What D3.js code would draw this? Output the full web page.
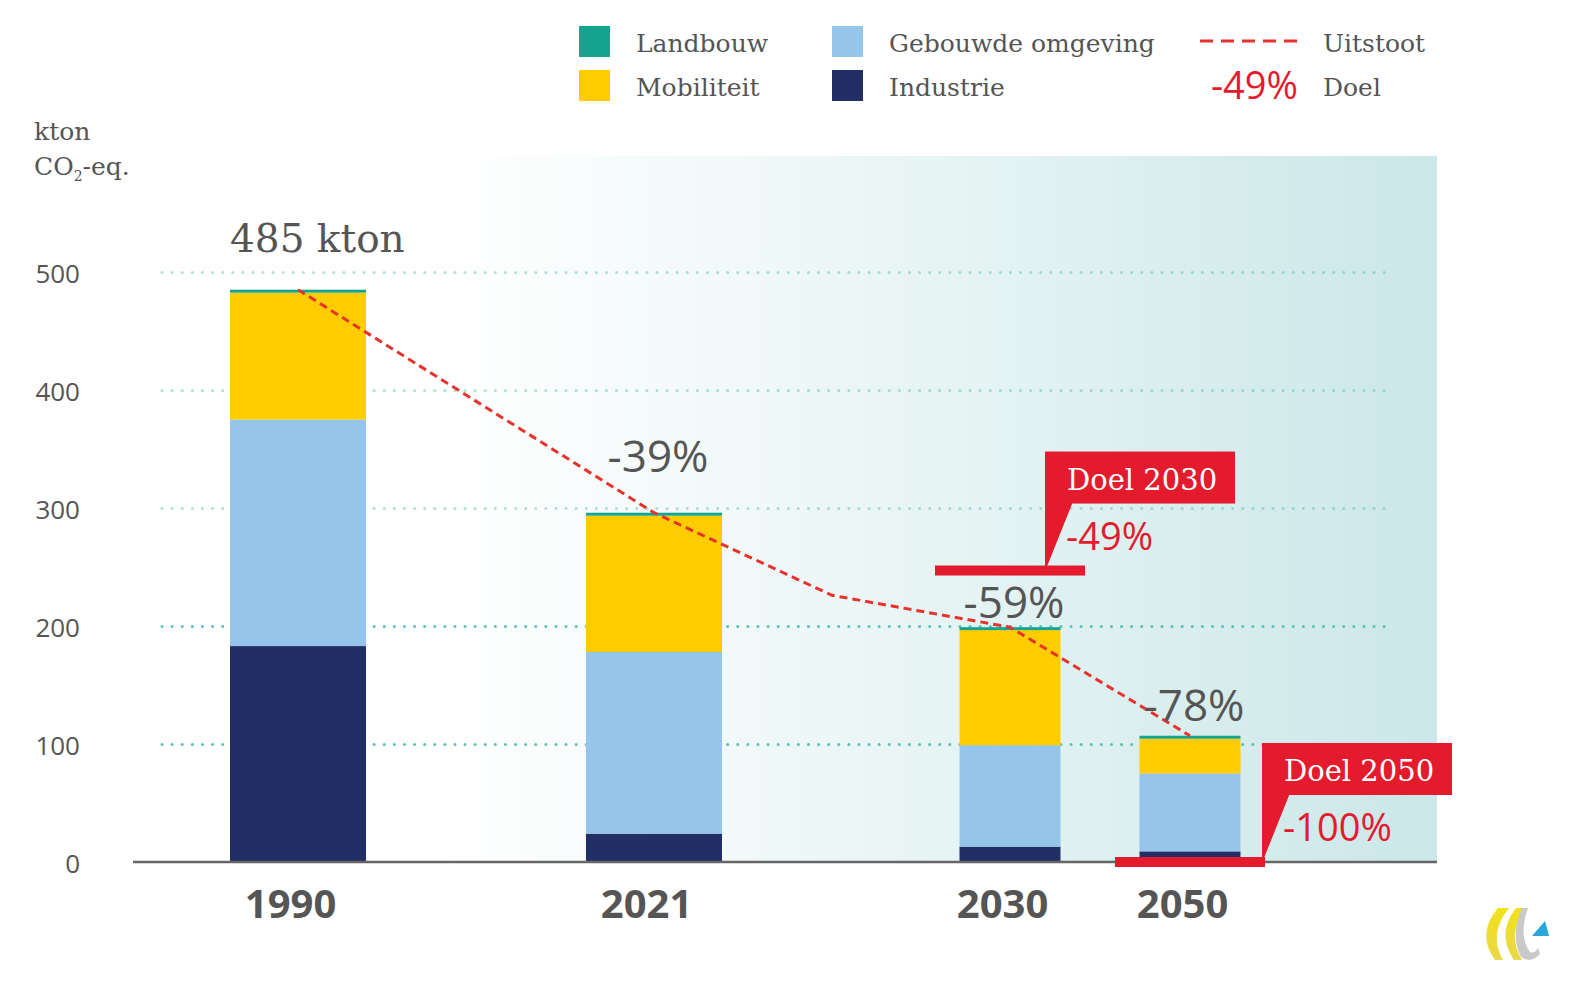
<!DOCTYPE html>
<html>
<head>
<meta charset="utf-8">
<script src="https://cdn.jsdelivr.net/npm/d3@7"></script>
<style>
  body { margin: 0; background: #fff; }
  svg { display: block; }
</style>
</head>
<body>
<script>
// values (kton CO2-eq.)
const years = [1990, 2021, 2030, 2050];
const industrie = [183, 24, 13, 9];
const gebouwd = [192, 154, 86, 66];
const mobiliteit = [107.5, 115.5, 97.5, 29.5];
const landbouw = [2.5, 2.5, 2.5, 2.5];

const sectors = ["Industrie", "Gebouwde omgeving", "Mobiliteit", "Landbouw"];
const sectorColors = ["#222f66", "#95c5ea", "#ffcc00", "#14a48f"];

const uitstootYears = [1990, 2021, 2025.5, 2030, 2050];
const uitstootValues = [485, 296, 226, 199, 107];

const doelYears = [2030, 2050];
const doelValues = [247, 0];
const doelLabels = ["-49%", "-100%"];

const yTicks = [0, 100, 200, 300, 400, 500];

const W = 1584, H = 984;
const red = "#e31b2d", grey = "#555";
const serif = "'DejaVu Serif', serif";
const sans = "'Open Sans', sans-serif";

const svg = d3.select("body").append("svg")
    .attr("width", W).attr("height", H);

const y = d3.scaleLinear().domain([0, 500]).range([862, 272]);
// bars are not spaced evenly in time, so map years piecewise
const x = d3.scaleLinear().domain(years).range([298, 654, 1010, 1190]);
const barW = d => d < 2030 ? 136 : 101;

const defs = svg.append("defs");
const grad = defs.append("linearGradient").attr("id", "bg");
grad.append("stop").attr("offset", "0").attr("stop-color", "#ffffff");
grad.append("stop").attr("offset", "0.24").attr("stop-color", "#ffffff");
grad.append("stop").attr("offset", "0.62").attr("stop-color", "#e7f4f4");
grad.append("stop").attr("offset", "1").attr("stop-color", "#cbe7e8");

svg.append("rect")
    .attr("x", 134).attr("y", 156)
    .attr("width", 1437 - 134).attr("height", y(0) - 156)
    .attr("fill", "url(#bg)");

// gridlines
const grid = svg.append("g")
    .attr("transform", "translate(162,0)")
    .call(d3.axisLeft(y).tickValues(yTicks.filter(d => d > 0)).tickSize(-1232).tickFormat(""));
grid.select(".domain").remove();
grid.selectAll(".tick line")
    .attr("stroke", "#4dbcb0")
    .attr("stroke-width", 3)
    .attr("stroke-linecap", "round")
    .attr("stroke-dasharray", "0.1,10")
    .attr("opacity", d => d <= 200 ? 0.9 : 0.45);

// y axis labels
const yAxis = svg.append("g")
    .attr("transform", "translate(80,0)")
    .call(d3.axisLeft(y).tickValues(yTicks).tickSize(0).tickPadding(0));
yAxis.select(".domain").remove();
yAxis.selectAll("text")
    .attr("font-family", sans).attr("font-size", 26)
    .attr("fill", grey).attr("dy", "0.4em");

// stacked bars
const table = years.map((yr, i) => ({
    year: yr, Industrie: industrie[i], "Gebouwde omgeving": gebouwd[i],
    Mobiliteit: mobiliteit[i], Landbouw: landbouw[i]
}));
const stacked = d3.stack().keys(sectors)(table);

svg.append("g").selectAll("g")
    .data(stacked)
    .join("g")
    .attr("fill", (d, i) => sectorColors[i])
    .selectAll("rect")
    .data(d => d)
    .join("rect")
    .attr("x", d => x(d.data.year) - barW(d.data.year) / 2)
    .attr("width", d => barW(d.data.year))
    .attr("y", d => y(d[1]))
    .attr("height", d => y(d[0]) - y(d[1]));

// baseline
svg.append("line")
    .attr("x1", 133).attr("x2", 1437)
    .attr("y1", y(0)).attr("y2", y(0))
    .attr("stroke", "#666").attr("stroke-width", 2.5);

// x axis labels
const xAxis = svg.append("g")
    .attr("transform", "translate(-8," + y(0) + ")")
    .call(d3.axisBottom(x).tickValues(years).tickFormat(d3.format("d")).tickSize(0).tickPadding(0));
xAxis.select(".domain").remove();
xAxis.selectAll("text")
    .attr("font-family", sans).attr("font-weight", 700).attr("font-size", 40)
    .attr("fill", grey).attr("dy", null).attr("y", 56);

// emissions line
const pts = uitstootYears.map((yr, i) => [x(yr), y(uitstootValues[i])]);
svg.append("path")
    .attr("d", d3.line()(pts))
    .attr("fill", "none")
    .attr("stroke", "#e6332e").attr("stroke-width", 3)
    .attr("stroke-dasharray", "8,5");

// totals and reductions
const totals = table.map(d => d.Industrie + d["Gebouwde omgeving"] + d.Mobiliteit + d.Landbouw);
const pctOffset = {2021: 41, 2030: 9, 2050: 15};

svg.append("text")
    .attr("x", x(1990) - barW(1990) / 2).attr("y", y(totals[0]) - 38)
    .attr("font-family", serif).attr("font-size", 39).attr("fill", grey)
    .text(Math.round(totals[0]) + " kton");

svg.append("g").selectAll("text")
    .data(table.slice(1))
    .join("text")
    .attr("x", d => x(d.year) + 4)
    .attr("y", (d, i) => y(totals[i + 1]) - pctOffset[d.year])
    .attr("text-anchor", "middle")
    .attr("font-family", sans).attr("font-size", 44).attr("fill", grey)
    .text((d, i) => Math.round((totals[i + 1] / totals[0] - 1) * 100) + "%");

// target callouts
const boxLeft = {2030: 35, 2050: 72};
doelYears.forEach((yr, i) => {
    const g = svg.append("g");
    const ty = y(doelValues[i]);
    const bx = x(yr) + boxLeft[yr];
    const by = ty - 119;
    g.append("rect")
        .attr("x", bx).attr("y", by).attr("width", 190).attr("height", 52)
        .attr("fill", red);
    g.append("path")
        .attr("d", `M${bx},${by + 50} L${bx + 28},${by + 50} L${bx + 2},${ty - 4} L${bx},${ty - 4}Z`)
        .attr("fill", red);
    g.append("rect")
        .attr("x", x(yr) - 75).attr("y", ty - 5).attr("width", 150).attr("height", 10)
        .attr("fill", red);
    g.append("text")
        .attr("x", bx + 22).attr("y", by + 38)
        .attr("font-family", serif).attr("font-size", 29).attr("fill", "#fff")
        .text("Doel " + yr);
    g.append("text")
        .attr("x", bx + 21).attr("y", ty - 21)
        .attr("font-family", sans).attr("font-size", 38).attr("fill", red)
        .text(doelLabels[i]);
});

// unit label
const unit = svg.append("text")
    .attr("font-family", serif).attr("font-size", 25).attr("fill", grey);
unit.append("tspan").attr("x", 34).attr("y", 140).text("kton");
unit.append("tspan").attr("x", 34).attr("y", 175).text("CO");
unit.append("tspan").attr("font-size", 14).attr("dy", 6).text("2");
unit.append("tspan").attr("dy", -6).text("-eq.");

// legend
const legendItems = [
    {label: "Landbouw", color: sectorColors[3], col: 0, row: 0},
    {label: "Mobiliteit", color: sectorColors[2], col: 0, row: 1},
    {label: "Gebouwde omgeving", color: sectorColors[1], col: 1, row: 0},
    {label: "Industrie", color: sectorColors[0], col: 1, row: 1}
];
const colX = [579, 832];
const rowY = [26, 70];
const legend = svg.append("g");
legend.selectAll("rect")
    .data(legendItems)
    .join("rect")
    .attr("x", d => colX[d.col]).attr("y", d => rowY[d.row])
    .attr("width", 31).attr("height", 31)
    .attr("fill", d => d.color);
legend.selectAll("text.lbl")
    .data(legendItems)
    .join("text")
    .attr("class", "lbl")
    .attr("x", d => colX[d.col] + 57).attr("y", d => rowY[d.row] + 26)
    .attr("font-family", serif).attr("font-size", 25).attr("fill", grey)
    .text(d => d.label);

legend.append("line")
    .attr("x1", 1200).attr("x2", 1303).attr("y1", 41).attr("y2", 41)
    .attr("stroke", "#e6332e").attr("stroke-width", 3)
    .attr("stroke-dasharray", "13,8");
legend.append("text")
    .attr("x", 1323).attr("y", 52)
    .attr("font-family", serif).attr("font-size", 25).attr("fill", grey)
    .text("Uitstoot");
legend.append("text")
    .attr("x", 1298).attr("y", 99).attr("text-anchor", "end")
    .attr("font-family", sans).attr("font-size", 38).attr("fill", red)
    .text("-49%");
legend.append("text")
    .attr("x", 1323).attr("y", 96)
    .attr("font-family", serif).attr("font-size", 25).attr("fill", grey)
    .text("Doel");

// small logo, bottom right
const logoGrad = defs.append("linearGradient").attr("id", "logoY")
    .attr("x1", 0).attr("y1", 0).attr("x2", 0).attr("y2", 1);
logoGrad.append("stop").attr("offset", 0).attr("stop-color", "#f2e21a");
logoGrad.append("stop").attr("offset", 1).attr("stop-color", "#e9d84a");
const logo = svg.append("g");
logo.append("path")
    .attr("d", "M1498,908 Q1476,934 1495,960 L1503,960 Q1488,934 1509,908Z")
    .attr("fill", "url(#logoY)");
logo.append("path")
    .attr("d", "M1516,908 Q1496,934 1514,960 L1522,960 Q1506,934 1526,908Z")
    .attr("fill", "url(#logoY)");
logo.append("path")
    .attr("d", "M1522,908 L1528,908 Q1518,936 1530,952 Q1534,954 1538,948 L1540,954 Q1530,964 1521,957 Q1510,936 1522,908Z")
    .attr("fill", "#c9c9c9");
logo.append("path")
    .attr("d", "M1532,936 L1549,936 L1545,921Z")
    .attr("fill", "#2aa6dc");
</script>
</body>
</html>
